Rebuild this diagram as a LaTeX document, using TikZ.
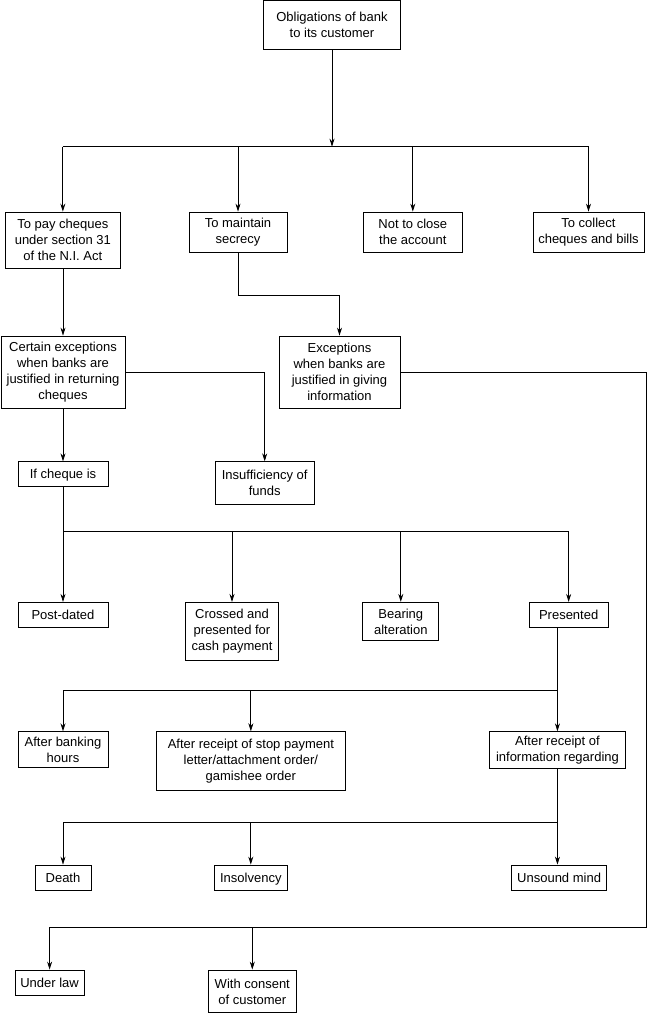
\documentclass[tikz,border=0pt]{standalone}
\usepackage{fontspec}
\setmainfont{Liberation Sans}
\usetikzlibrary{arrows.meta}
\begin{document}
\begin{tikzpicture}[x=1pt,y=-1pt,
  line width=0.8pt,
  box/.style={draw,rectangle,inner sep=0pt,align=center,
    font=\fontsize{13}{16}\selectfont},
  one/.style={box,text height=9.4pt,text depth=0pt},
  arr/.style={-{Stealth[length=8pt,width=5pt]}}]
\useasboundingbox (0,0) rectangle (647,1014);
% nodes
\node[box,minimum width=137,minimum height=49] (top) at (332,25.2) {Obligations of bank\\to its customer};
\node[box,minimum width=115.7,minimum height=56] (b1) at (62.85,240) {To pay cheques\\under section 31\\of the N.I. Act};
\node[box,minimum width=98,minimum height=40] (b2) at (238,232) {To maintain\\secrecy};
\node[box,minimum width=98.4,minimum height=40] (b3) at (412.8,232) {Not to close\\the account};
\node[box,minimum width=111,minimum height=40] (b4) at (588.5,232) {To collect\\cheques and bills};
\node[box,minimum width=124,minimum height=72] (b5) at (63,372) {Certain exceptions\\when banks are\\justified in returning\\cheques};
\node[box,minimum width=121,minimum height=72] (b6) at (339.5,372) {Exceptions\\when banks are\\justified in giving\\information};
\node[one,minimum width=90,minimum height=24.5] (b7) at (63,474) {If cheque is};
\node[box,minimum width=98.7,minimum height=42.5] (b8) at (264.7,483) {Insufficiency of\\funds};
\node[one,minimum width=90,minimum height=25] (pd) at (63,614.8) {Post-dated};
\node[box,minimum width=93,minimum height=57.7] (cr) at (232,631.2) {Crossed and\\presented for\\cash payment};
\node[box,minimum width=76,minimum height=38.4] (ba) at (400.8,621.5) {Bearing\\alteration};
\node[one,minimum width=79.3,minimum height=25] (pr) at (568.65,614.8) {Presented};
\node[box,minimum width=90,minimum height=35.6] (abh) at (63,749.5) {After banking\\hours};
\node[box,minimum width=189.3,minimum height=58.3] (ars) at (250.85,760.85) {After receipt of stop payment\\letter/attachment order/\\gamishee order};
\node[box,minimum width=136.3,minimum height=36.6] (ari) at (557.45,750) {After receipt of\\information regarding};
\node[one,minimum width=56.2,minimum height=25] (de) at (63,877.5) {Death};
\node[one,minimum width=73.6,minimum height=25] (ins) at (250.8,877.5) {Insolvency};
\node[one,minimum width=95,minimum height=25] (um) at (559.1,877.5) {Unsound mind};
\node[one,minimum width=69.4,minimum height=25] (ul) at (49.6,982.5) {Under law};
\node[box,minimum width=88,minimum height=42.7] (wc) at (252.3,991.35) {With consent\\of customer};
% junction coordinates
\coordinate (j1) at (332,146.7);
\coordinate (j2) at (0,295);
\coordinate (j3) at (0,531.7);
\coordinate (j4) at (0,690);
\coordinate (j5) at (0,822.7);
\coordinate (rt) at (646.5,927.3);
% connectors
\draw[arr] (top.south) -- (j1);
\draw (b1.north |- j1) -- (b4.north |- j1);
\foreach \n in {b1,b2,b3,b4} \draw[arr] (\n.north |- j1) -- (\n.north);
\draw[arr] (b5.north |- b1.south) -- (b5.north);
\draw[arr] (b2.south) -- (b2.south |- j2) -| (b6.north);
\draw[arr] (b5.south) -- (b7.north);
\draw[arr] (b5.east) -| (b8.north);
\draw (b7.south) -- (b7.south |- j3);
\draw (pd.north |- j3) -- (pr.north |- j3);
\foreach \n in {pd,cr,ba,pr} \draw[arr] (\n.north |- j3) -- (\n.north);
\draw[arr] (pr.south -| ari.north) -- (ari.north);
\draw (ari.north |- j4) -- (abh.north |- j4);
\foreach \n in {abh,ars} \draw[arr] (\n.north |- j4) -- (\n.north);
\draw[arr] (ari.south) -- (ari.south |- um.north);
\draw (ari.south |- j5) -- (de.north |- j5);
\foreach \n in {de,ins} \draw[arr] (\n.north |- j5) -- (\n.north);
\draw[arr] (b6.east) -| (rt) -| (ul.north);
\draw[arr] (wc.north |- rt) -- (wc.north);
\end{tikzpicture}
\end{document}
